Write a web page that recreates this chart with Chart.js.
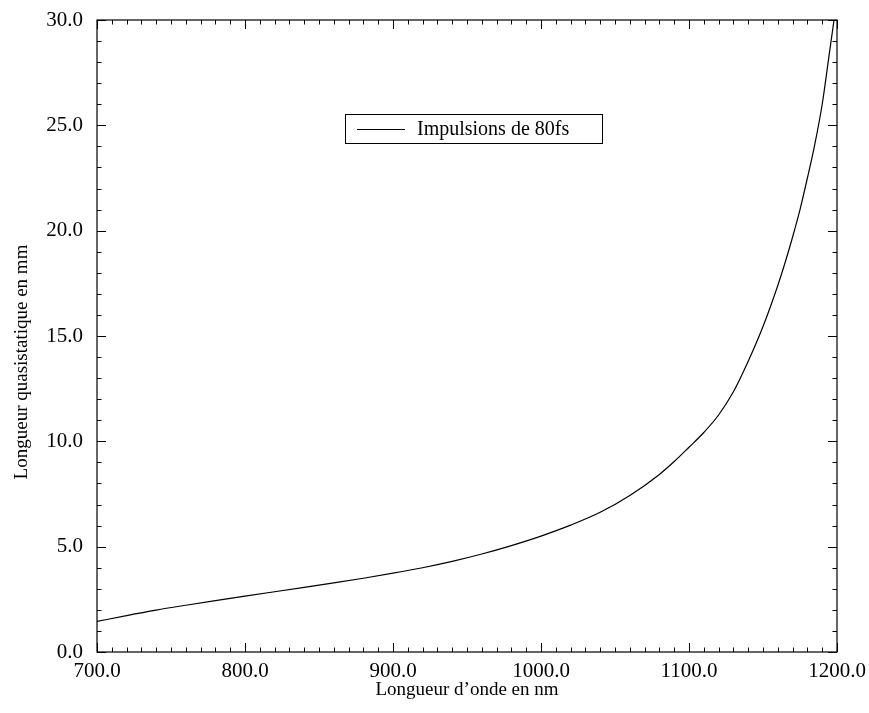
<!DOCTYPE html>
<html>
<head>
    <script src="https://cdn.jsdelivr.net/npm/chart.js@4.4.1/dist/chart.umd.min.js"></script>
    <style>
        body {
            margin: 0;
            background-color: #ffffff;
        }
        #chart {
            display: block;
        }
    </style>
</head>
<body>
    <canvas id="chart" width="869" height="713"></canvas>
    <script>
        // values (nm -> mm)
        var wavelengths = [700, 720, 740, 760, 780, 800, 820, 840, 860, 880, 900, 920, 940, 960, 980,
            1000, 1020, 1040, 1060, 1080, 1090, 1100, 1110, 1120, 1130, 1140, 1150, 1160, 1165, 1170,
            1175, 1180, 1185, 1190, 1195, 1198];
        var lengths = [1.45, 1.73, 1.99, 2.22, 2.44, 2.65, 2.86, 3.07, 3.28, 3.5, 3.74, 4.0, 4.3, 4.65, 5.05,
            5.5, 6.02, 6.63, 7.43, 8.43, 9.04, 9.72, 10.42, 11.25, 12.35, 13.8, 15.45, 17.4, 18.5, 19.7,
            21.0, 22.5, 24.1, 26.0, 28.5, 30.0];
        var seriesLabel = 'Impulsions de 80fs';
        var xTitle = 'Longueur d\u2019onde en nm';
        var yTitle = 'Longueur quasistatique en mm';

        var serif = '"Liberation Serif", "DejaVu Serif", serif';

        var points = [];
        for (var i = 0; i < wavelengths.length; i++) {
            points.push({ x: wavelengths[i], y: lengths[i] });
        }

        // keep label overhang from pushing the plot area in
        function noPad(scale) {
            scale.paddingTop = 0;
            scale.paddingBottom = 0;
            scale.paddingLeft = 0;
            scale.paddingRight = 0;
        }

        // frame, inward ticks on all four sides, legend box and y title
        var framePlugin = {
            id: 'frame',
            afterDraw: function (chart) {
                var ctx = chart.ctx;
                var a = chart.chartArea;
                var xs = chart.scales.x;
                var ys = chart.scales.y;
                ctx.save();
                ctx.strokeStyle = '#000';
                ctx.lineWidth = 1.2;
                ctx.strokeRect(a.left, a.top, a.right - a.left, a.bottom - a.top);

                ctx.lineWidth = 1;
                ctx.beginPath();
                for (var v = 700; v <= 1200; v += 10) {
                    var px = Math.round(xs.getPixelForValue(v)) + 0.5;
                    var len = (v % 100 === 0) ? 9 : 4.5;
                    ctx.moveTo(px, a.bottom); ctx.lineTo(px, a.bottom - len);
                    ctx.moveTo(px, a.top); ctx.lineTo(px, a.top + len);
                }
                for (var w = 0; w <= 30; w += 1) {
                    var py = Math.round(ys.getPixelForValue(w)) + 0.5;
                    var l2 = (w % 5 === 0) ? 9 : 4.5;
                    ctx.moveTo(a.left, py); ctx.lineTo(a.left + l2, py);
                    ctx.moveTo(a.right, py); ctx.lineTo(a.right - l2, py);
                }
                ctx.stroke();

                // legend
                var lx = a.left + 248, ly = a.top + 94;
                ctx.lineWidth = 1;
                ctx.strokeRect(lx + 0.5, ly + 0.5, 257, 29);
                ctx.beginPath();
                ctx.moveTo(lx + 12, ly + 15.5);
                ctx.lineTo(lx + 60, ly + 15.5);
                ctx.stroke();
                ctx.fillStyle = '#000';
                ctx.font = '20px ' + serif;
                ctx.textBaseline = 'middle';
                ctx.textAlign = 'left';
                ctx.fillText(chart.data.datasets[0].label, lx + 72, ly + 16);

                // y axis title
                ctx.translate(22, 362);
                ctx.rotate(-Math.PI / 2);
                ctx.textAlign = 'center';
                ctx.font = '19px ' + serif;
                ctx.fillText(yTitle, 0, 0);
                ctx.restore();
            }
        };

        var ctx = document.getElementById('chart').getContext('2d');
        var chart = new Chart(ctx, {
            type: 'line',
            data: {
                datasets: [{
                    label: seriesLabel,
                    data: points,
                    borderColor: '#000',
                    borderWidth: 1.2,
                    pointRadius: 0,
                    fill: false,
                    cubicInterpolationMode: 'monotone'
                }]
            },
            options: {
                responsive: false,
                animation: false,
                layout: {
                    padding: { top: 20, right: 32, left: 0, bottom: 0 }
                },
                plugins: {
                    legend: { display: false },
                    tooltip: { enabled: false }
                },
                scales: {
                    x: {
                        type: 'linear',
                        min: 700,
                        max: 1200,
                        afterFit: function (scale) { scale.height = 61; noPad(scale); },
                        grid: { display: false, drawTicks: false },
                        border: { display: false },
                        ticks: {
                            stepSize: 100,
                            autoSkip: false,
                            maxRotation: 0,
                            padding: 7,
                            color: '#000',
                            font: { family: serif, size: 21 },
                            callback: function (v) { return Number(v).toFixed(1); }
                        },
                        title: {
                            display: true,
                            text: xTitle,
                            color: '#000',
                            font: { family: serif, size: 19 },
                            padding: { top: 0, bottom: 12 }
                        }
                    },
                    y: {
                        min: 0,
                        max: 30,
                        afterFit: function (scale) { scale.width = 97; noPad(scale); },
                        grid: { display: false, drawTicks: false },
                        border: { display: false },
                        ticks: {
                            stepSize: 5,
                            padding: 14,
                            color: '#000',
                            font: { family: serif, size: 21 },
                            callback: function (v) { return Number(v).toFixed(1); }
                        }
                    }
                }
            },
            plugins: [framePlugin]
        });
    </script>
</body>
</html>
